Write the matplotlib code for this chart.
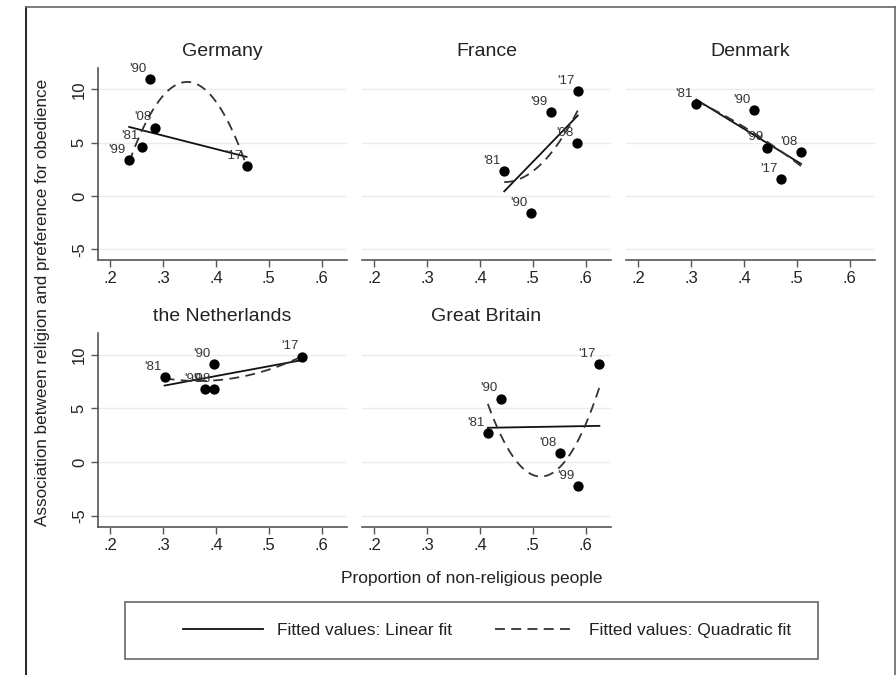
import numpy as np
import matplotlib
matplotlib.use('Agg')
import matplotlib.pyplot as plt
from matplotlib.lines import Line2D
from matplotlib.patches import Rectangle

plt.rcParams['font.family'] = ['Liberation Sans', 'DejaVu Sans']

# ---------------- data ----------------
countries = ['Germany', 'France', 'Denmark', 'the Netherlands', 'Great Britain']
waves = ["'81", "'90", "'99", "'08", "'17"]

germany_x = [0.260, 0.2755, 0.236, 0.285, 0.458]
germany_y = [4.64, 10.93, 3.33, 6.41, 2.83]
france_x = [0.446, 0.496, 0.534, 0.584, 0.585]
france_y = [2.34, -1.63, 7.85, 4.98, 9.84]
denmark_x = [0.310, 0.419, 0.443, 0.508, 0.470]
denmark_y = [8.63, 8.07, 4.54, 4.14, 1.55]
netherlands_x = [0.303, 0.396, 0.380, 0.397, 0.563]
netherlands_y = [7.87, 9.09, 6.78, 6.78, 9.81]
britain_x = [0.415, 0.440, 0.586, 0.552, 0.626]
britain_y = [2.72, 5.90, -2.21, 0.84, 9.13]

xs = [germany_x, france_x, denmark_x, netherlands_x, britain_x]
ys = [germany_y, france_y, denmark_y, netherlands_y, britain_y]

x_ticks = [0.2, 0.3, 0.4, 0.5, 0.6]
x_ticklabels = ['.2', '.3', '.4', '.5', '.6']
y_ticks = [-5, 0, 5, 10]
y_ticklabels = ['-5', '0', '5', '10']

legend_labels = ['Fitted values: Linear fit', 'Fitted values: Quadratic fit']
xlabel = 'Proportion of non-religious people'
ylabel = 'Association between religion and preference for obedience'

# ---------------- layout ----------------
W, H = 896, 675
fig = plt.figure(figsize=(W / 100, H / 100), dpi=100)

def fig_rect(x0, y0, x1, y1):
    return [x0 / W, 1 - y1 / H, (x1 - x0) / W, (y1 - y0) / H]

col_left = [98, 362, 626]
panel_w = 249
rows = [(68, 260), (333, 526.5)]
positions = [(0, 0), (0, 1), (0, 2), (1, 0), (1, 1)]

grid_col = '#e4eef1'
axis_col = '#555555'
txt_col = '#222222'

for i, (r, c) in enumerate(positions):
    y0, y1 = rows[r]
    x0 = col_left[c]
    ax = fig.add_axes(fig_rect(x0, y0, x0 + panel_w, y1))
    ax.set_xlim(0.177, 0.648)
    ax.set_ylim(-6.0, 12.0)
    for yv in y_ticks:
        ax.axhline(yv, color=grid_col, lw=1.0, zorder=0)
    x = np.array(xs[i])
    y = np.array(ys[i])
    xx = np.linspace(x.min(), x.max(), 200)
    p1 = np.polyfit(x, y, 1)
    p2 = np.polyfit(x, y, 2)
    ax.plot(xx, np.polyval(p1, xx), color='#111111', lw=1.3, zorder=2)
    ax.plot(xx, np.polyval(p2, xx), color='#333333', lw=1.3,
            ls=(0, (5.5, 3.5)), zorder=2)
    ax.scatter(x, y, s=55, color='black', zorder=3, linewidths=0)
    for xi, yi, lab in zip(x, y, waves):
        ax.annotate(lab, (xi, yi), xytext=(-2.5, 3), textcoords='offset points',
                    ha='right', va='bottom', fontsize=9.5, color='#333333')
    ax.set_title(countries[i], fontsize=14, color=txt_col, pad=9)
    for s in ['top', 'right']:
        ax.spines[s].set_visible(False)
    ax.spines['bottom'].set_color(axis_col)
    ax.spines['bottom'].set_linewidth(1.2)
    ax.set_xticks(x_ticks)
    ax.set_xticklabels(x_ticklabels)
    ax.tick_params(axis='x', length=5, width=1, color=axis_col,
                   labelsize=12, labelcolor=txt_col, pad=3)
    ax.set_yticks(y_ticks)
    if c == 0:
        ax.spines['left'].set_color(axis_col)
        ax.spines['left'].set_linewidth(1.2)
        ax.set_yticklabels(y_ticklabels, rotation=90, va='center')
        ax.tick_params(axis='y', length=5, width=1, color=axis_col,
                       labelsize=12, labelcolor=txt_col, pad=3)
    else:
        ax.spines['left'].set_visible(False)
        ax.tick_params(axis='y', left=False, labelleft=False)
    ax.patch.set_alpha(0)

fig.text(43 / W, 1 - 302 / H, ylabel, rotation=90, ha='center', va='center',
         fontsize=12.3, color=txt_col)
fig.text(472 / W, 1 - 579 / H, xlabel, ha='center', va='center',
         fontsize=12.5, color=txt_col)

# legend
handles = [Line2D([], [], color='#111111', lw=1.3),
           Line2D([], [], color='#333333', lw=1.3, ls=(0, (5.5, 3.5)))]
fig.add_artist(Rectangle((125 / W, 1 - 659 / H), 693 / W, 57 / H,
                         transform=fig.transFigure, fill=False,
                         edgecolor='#666666', lw=1.2))
fig.legend(handles, legend_labels, loc='center',
           bbox_to_anchor=(487 / W, 1 - 630.5 / H), ncol=2, frameon=False,
           fontsize=12.5, handlelength=4.6, handletextpad=0.8,
           columnspacing=2.5, labelcolor=txt_col)

# outer frame
fig.add_artist(Line2D([26 / W, 26 / W], [0, 1 - 7 / H], color='black', lw=1.2,
                      transform=fig.transFigure))
fig.add_artist(Line2D([26 / W, 895 / W], [1 - 7 / H, 1 - 7 / H], color='#666666',
                      lw=1.2, transform=fig.transFigure))
fig.add_artist(Line2D([895 / W, 895 / W], [0, 1 - 7 / H], color='#666666', lw=1.2,
                      transform=fig.transFigure))

fig.savefig('out.png', dpi=100, facecolor='white')
